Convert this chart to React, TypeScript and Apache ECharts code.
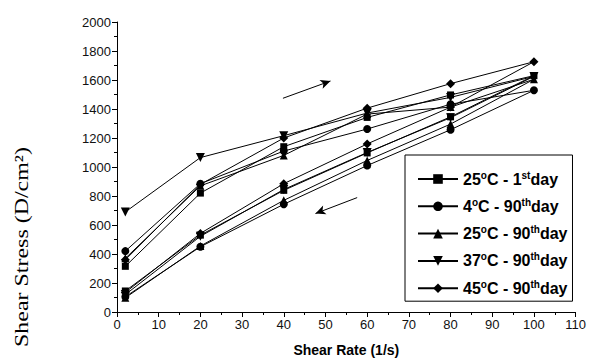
import React, { useEffect, useRef } from "react";
import * as echarts from "echarts";

const shearRate = [2, 20, 40, 60, 80, 100, 80, 60, 40, 20, 2];
const s25Day1 = [315, 820, 1140, 1342, 1497, 1630, 1346, 1097, 839, 530, 145];
const s4Day90 = [420, 885, 1110, 1262, 1433, 1529, 1257, 1010, 743, 450, 105];
const s25Day90 = [370, 870, 1080, 1365, 1413, 1605, 1296, 1045, 770, 455, 98];
const s37Day90 = [690, 1065, 1216, 1372, 1480, 1625, 1340, 1100, 845, 522, 120];
const s45Day90 = [360, 880, 1200, 1406, 1575, 1726, 1413, 1159, 885, 542, 135];

const seriesNames = ["25C1", "4C90", "25C90", "37C90", "45C90"];
const legendLabels: Record<string, string> = {
  "25C1": "{b|25}{sup|o}{b|C - 1}{sup|st}{b|day}",
  "4C90": "{b|4}{sup|o}{b|C - 90}{sup|th}{b|day}",
  "25C90": "{b|25}{sup|o}{b|C - 90}{sup|th}{b|day}",
  "37C90": "{b|37}{sup|o}{b|C - 90}{sup|th}{b|day}",
  "45C90": "{b|45}{sup|o}{b|C - 90}{sup|th}{b|day}",
};
const seriesValues = [s25Day1, s4Day90, s25Day90, s37Day90, s45Day90];
const symbols = [
  "rect",
  "circle",
  "triangle",
  "path://M0,0 L10,0 L5,9 Z",
  "diamond",
];
const symbolSizes = [7, 8, 8, 9, 9];

export default function App() {
  const ref = useRef<HTMLDivElement>(null);
  useEffect(() => {
    if (!ref.current) return;
    const chart = echarts.init(ref.current, undefined, { renderer: "svg" });
    const series: any[] = seriesNames.map((name, i) => ({
      name,
      type: "line",
      data: shearRate.map((x, j) => [x, seriesValues[i][j]]),
      symbol: symbols[i],
      symbolSize: symbolSizes[i],
      showSymbol: true,
      lineStyle: { color: "#000", width: 1 },
      itemStyle: { color: "#000", borderWidth: 0 },
      z: 3,
    }));
    series[0].markLine = {
      silent: true,
      symbol: ["none", "arrow"],
      symbolSize: [7, 10],
      label: { show: false },
      lineStyle: { color: "#000", width: 1, type: "solid" },
      data: [
        [{ coord: [39.8, 1474] }, { coord: [51.2, 1593] }],
        [{ coord: [57.6, 789] }, { coord: [47.6, 679] }],
      ],
    };
    const font = "Liberation Sans, Arial, sans-serif";
    chart.setOption({
      animation: false,
      backgroundColor: "#fff",
      textStyle: { fontFamily: font },
      grid: { left: 117, right: 13, top: 22, bottom: 48 },
      xAxis: {
        type: "value",
        min: 0,
        max: 110,
        interval: 10,
        name: "Shear Rate (1/s)",
        nameLocation: "middle",
        nameGap: 31,
        nameTextStyle: { fontSize: 14, fontWeight: "bold", color: "#000" },
        axisLine: { show: true, onZero: false, lineStyle: { color: "#000", width: 1 } },
        axisTick: { show: true, inside: false, length: 5, lineStyle: { color: "#000" } },
        minorTick: { show: true, splitNumber: 2, length: 3, lineStyle: { color: "#000" } },
        splitLine: { show: false },
        axisLabel: { fontSize: 13, color: "#111", margin: 6 },
      },
      yAxis: {
        type: "value",
        min: 0,
        max: 2000,
        interval: 200,
        axisLine: { show: true, onZero: false, lineStyle: { color: "#000", width: 1 } },
        axisTick: { show: true, inside: false, length: 5, lineStyle: { color: "#000" } },
        minorTick: { show: true, splitNumber: 2, length: 3, lineStyle: { color: "#000" } },
        splitLine: { show: false },
        axisLabel: {
          fontSize: 13,
          color: "#111",
          margin: 6,
          formatter: (v: number) => String(v),
        },
      },
      legend: {
        orient: "vertical",
        left: 405,
        top: 155,
        data: seriesNames,
        formatter: (name: string) => legendLabels[name],
        itemWidth: 40,
        itemHeight: 12,
        itemGap: 10.3,
        padding: [15, 5, 5, 12],
        borderColor: "#000",
        borderWidth: 1,
        backgroundColor: "#fff",
        textStyle: {
          color: "#000",
          rich: {
            b: { fontSize: 16, fontWeight: "bold", color: "#000", lineHeight: 18, fontFamily: font },
            sup: { fontSize: 10, fontWeight: "bold", color: "#000", lineHeight: 18, verticalAlign: "top", padding: [0, 0, 7, 0], fontFamily: font },
          },
        },
      },
      graphic: [
        {
          type: "text",
          x: 22,
          y: 247,
          rotation: Math.PI / 2,
          scaleX: 1.26,
          style: {
            text: "Shear Stress (D/cm²)",
            fontFamily: "Liberation Serif, Times New Roman, serif",
            fontSize: 19,
            fill: "#000",
            align: "center",
            verticalAlign: "middle",
          },
        },
      ],
      series,
    });
    return () => chart.dispose();
  }, []);
  return (
    <div
      ref={ref}
      style={{ position: "fixed", left: 0, top: 0, width: 589, height: 362 }}
    />
  );
}
